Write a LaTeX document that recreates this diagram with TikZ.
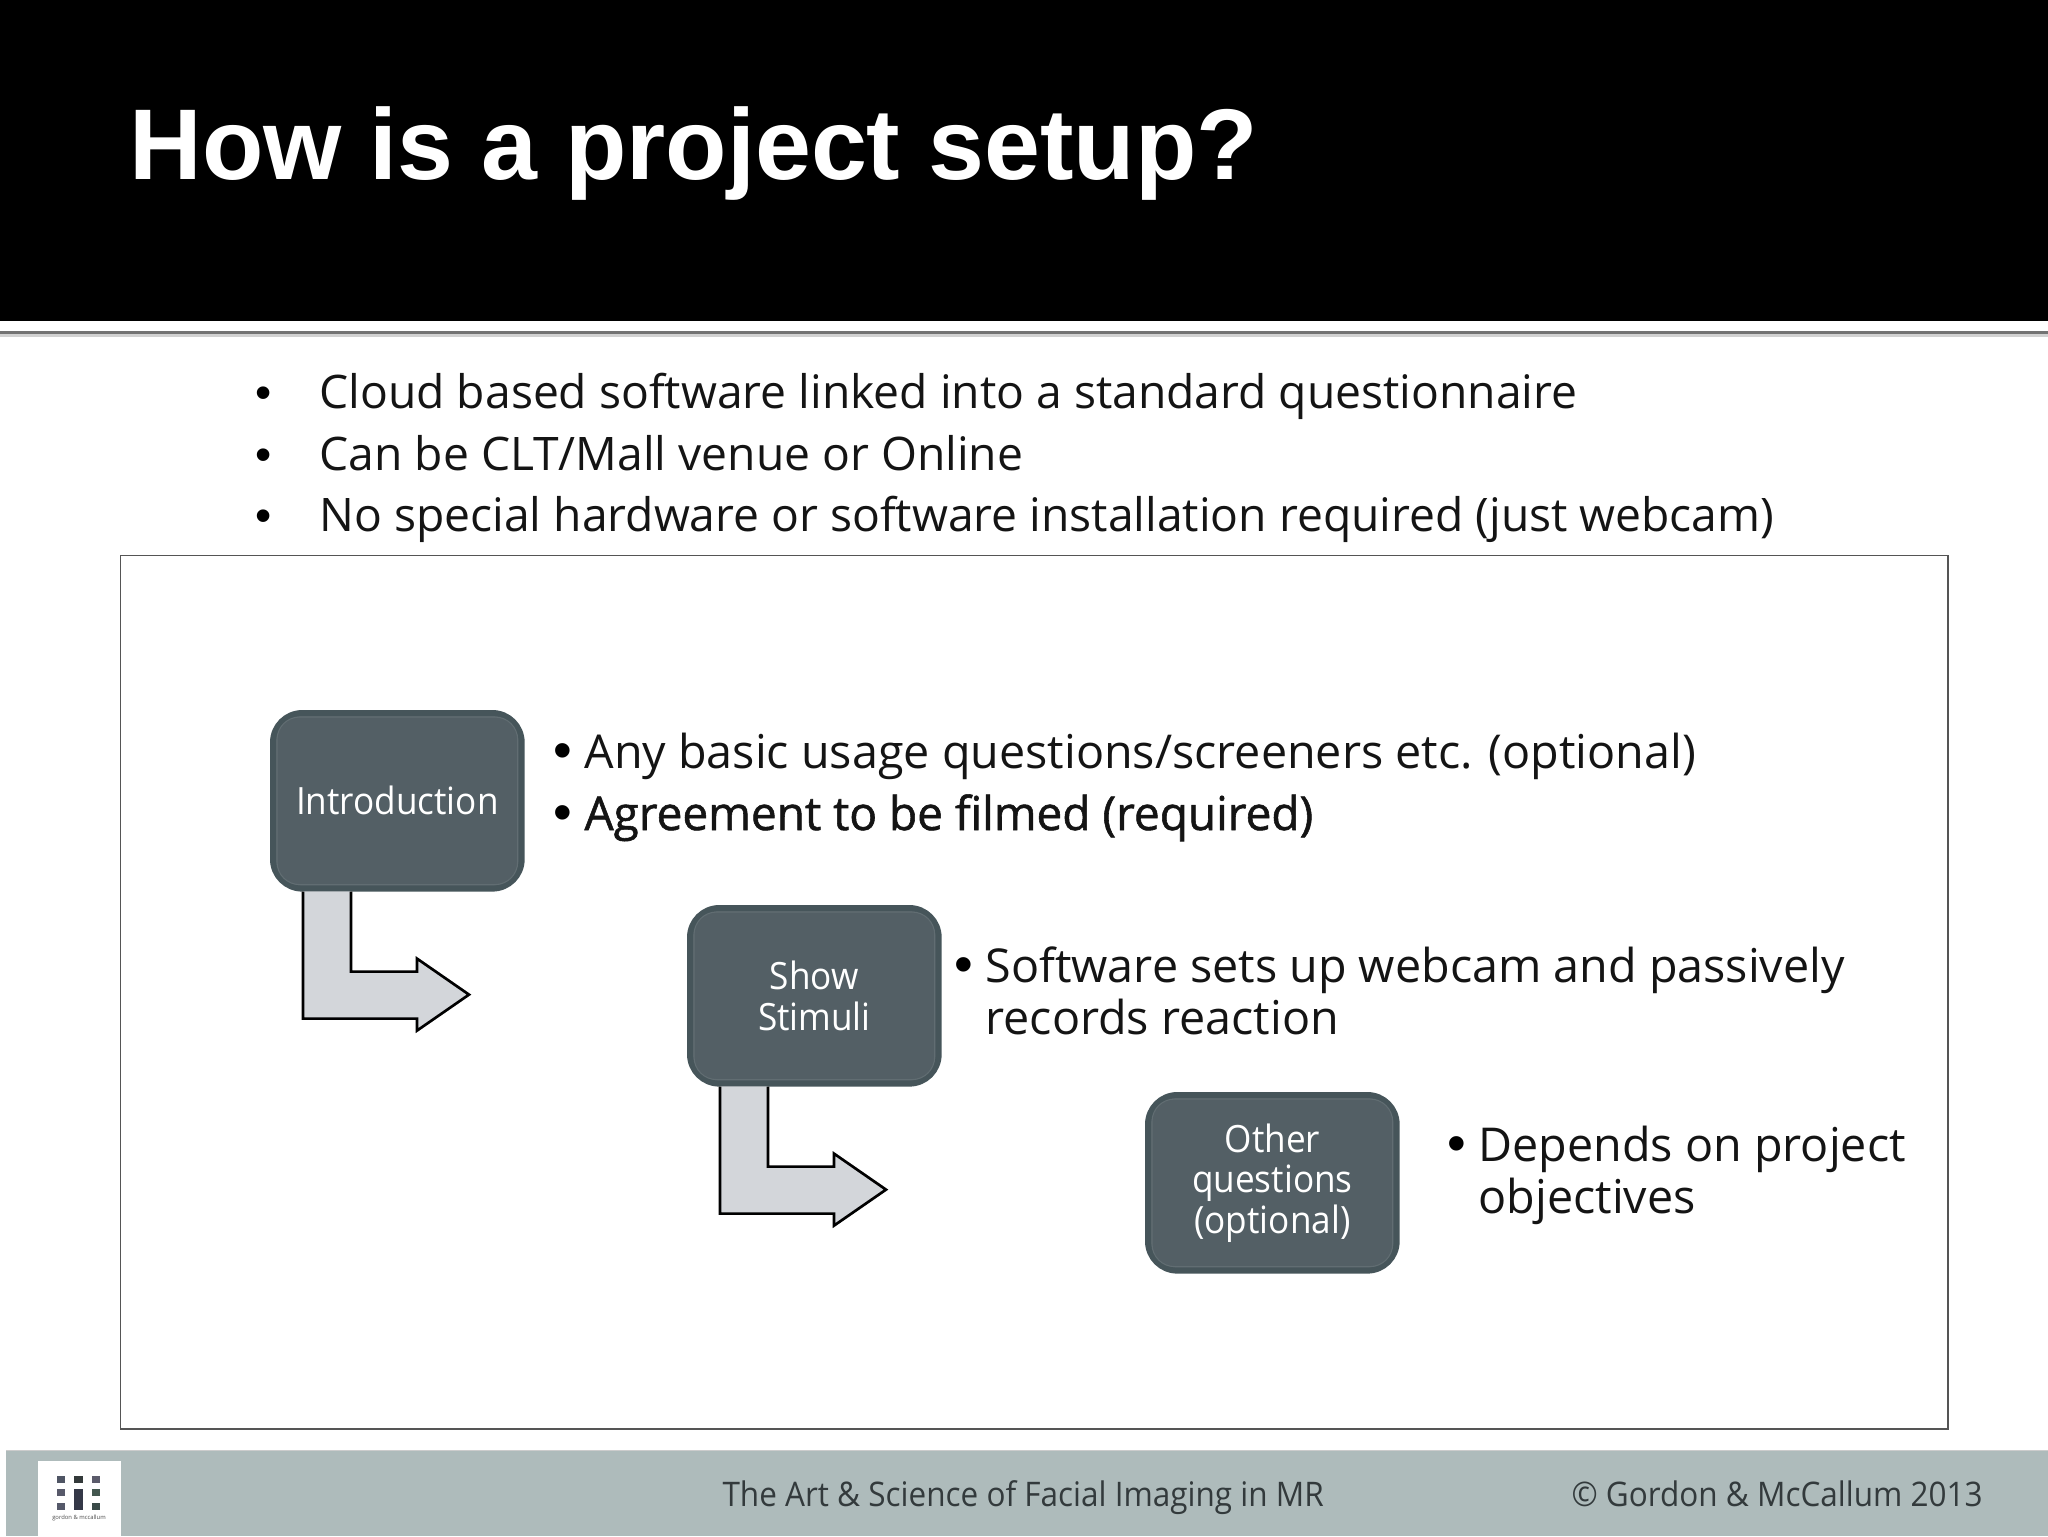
\documentclass[tikz,border=0pt]{standalone}
\usepackage{fontspec}
\setmainfont{Open Sans}
\newfontfamily\titlefont{Liberation Sans}
\newfontfamily\boxfont[FakeStretch=0.935]{Open Sans}
\newfontfamily\footfont[FakeStretch=0.93]{Open Sans}
\newfontfamily\heavyfont[FakeBold=1.2,FakeStretch=0.985]{Open Sans}
\definecolor{boxfill}{HTML}{535F65}
\definecolor{boxedge}{HTML}{46555A}
\definecolor{boxinner}{HTML}{616D72}
\definecolor{arrowfill}{HTML}{D3D6DA}
\definecolor{footerbg}{HTML}{AEBBBB}
\definecolor{footertext}{HTML}{333A3C}
\definecolor{framecol}{HTML}{555555}
\definecolor{textcol}{HTML}{141414}
\tikzset{
  x=0.375pt,y=-0.375pt,
  body/.style={anchor=base west,inner sep=0pt,text=textcol,font=\fontsize{17.33}{20}\selectfont},
  bodybullet/.style={anchor=base west,inner sep=0pt,text=black,font=\titlefont\fontsize{17.35}{20}\selectfont},
  sidetext/.style={anchor=base west,inner sep=0pt,text=textcol,font=\fontsize{17.5}{20}\selectfont},
  sidebullet/.style={anchor=base west,inner sep=0pt,text=black,font=\titlefont\fontsize{20}{20}\selectfont},
  stepbox/.style={draw=boxedge,fill=boxfill,line width=2.25pt,rounded corners=11pt,anchor=north west,
    minimum width=93.25pt,minimum height=65.85pt,inner sep=0pt,text=white,align=center,
    font=\boxfont\fontsize{14.1}{15.2}\selectfont},
  innerline/.style={draw=boxinner,line width=0.4pt,rounded corners=8.5pt},
  bentfill/.style={fill=arrowfill},
  bentline/.style={draw=black,line width=1pt,line join=miter},
  footer/.style={anchor=base west,inner sep=0pt,text=footertext,font=\footfont\fontsize{12.7}{15}\selectfont},
}
\newcommand{\stepinner}[1]{\draw[innerline] ([shift={(7,7)}]#1.north west) rectangle ([shift={(-7,-7)}]#1.south east);}
\newcommand{\bentarrow}[1]{
  \fill[bentfill] ([shift={(33,0)}]#1.south west) -- ([shift={(81,0)}]#1.south west) -- ([shift={(81,80)}]#1.south west) -- ([shift={(147,80)}]#1.south west) -- ([shift={(147,67)}]#1.south west) -- ([shift={(199,103)}]#1.south west) -- ([shift={(147,139)}]#1.south west) -- ([shift={(147,127)}]#1.south west) -- ([shift={(33,127)}]#1.south west) -- cycle;
  \draw[bentline] ([shift={(81,0)}]#1.south west) -- ([shift={(81,80)}]#1.south west) -- ([shift={(147,80)}]#1.south west) -- ([shift={(147,67)}]#1.south west) -- ([shift={(199,103)}]#1.south west) -- ([shift={(147,139)}]#1.south west) -- ([shift={(147,127)}]#1.south west) -- ([shift={(33,127)}]#1.south west) -- ([shift={(33,0)}]#1.south west);
}
\begin{document}
\begin{tikzpicture}
\useasboundingbox (0,0) rectangle (2048,1536);
\fill[white] (0,0) rectangle (2048,1536);
% header
\fill[black] (0,0) rectangle (2048,321);
\fill[black!55] (0,331) rectangle (2048,334);
\fill[black!18] (0,334) rectangle (2048,337);
\node[anchor=base west,inner sep=0pt,text=white,font=\titlefont\bfseries\fontsize{37.7}{40}\selectfont] (title) at (129,179) {How is a project setup?};
% bullets
\node[bodybullet] (b1) at (255,408) {•};
\node[body] (t1) at (319,408) {Cloud based software linked into a standard questionnaire};
\node[bodybullet] (b2) at (255,470) {•};
\node[body] (t2) at (319,470) {Can be CLT/Mall venue or Online};
\node[bodybullet] (b3) at (255,531) {•};
\node[body] (t3) at (319,531) {No special hardware or software installation required (just webcam)};
% frame
\draw[framecol,line width=0.6pt] (120.5,555.5) rectangle (1948,1429);
% boxes
\node[stepbox] (intro) at (270,710) {Introduction};
\stepinner{intro}
\bentarrow{intro}
\node[stepbox] (show) at (687,905) {Show\\Stimuli};
\stepinner{show}
\bentarrow{show}
\node[stepbox] (other) at (1145,1092) {Other\\questions\\(optional)};
\stepinner{other}
% side text
\node[sidebullet] (s1b) at (553,768) {•};
\node[sidetext] (s1) at (584,768) {Any basic usage questions/screeners etc. (optional)};
\node[sidebullet] (s2b) at (553,830) {•};
\node[sidetext,font=\heavyfont\fontsize{17.5}{20}\selectfont] (s2) at (584,830) {Agreement to be filmed (required)};
\node[sidebullet] (s3b) at (954,982) {•};
\node[sidetext] (s3) at (985,982) {Software sets up webcam and passively};
\node[sidetext] (s3c) at (985,1034) {records reaction};
\node[sidebullet] (s4b) at (1447,1161) {•};
\node[sidetext] (s4) at (1478,1161) {Depends on project};
\node[sidetext] (s4c) at (1478,1213) {objectives};
% footer
\fill[footerbg] (6,1450) rectangle (2048,1536);
\fill[black!20] (6,1450) rectangle (2048,1451);
\fill[white] (38,1461) rectangle (121,1536);
\foreach \xa/\ya/\xb/\yb/\c in {57/1476/65/1483/4F5564,74/1476/83/1483/33393A,92/1476/100/1483/5B5B6B,57/1489/65/1496/57596A,74/1489/83/1510/343847,92/1489/100/1496/43574F,57/1503/65/1510/55596A,92/1503/100/1510/3A4A48}
  {\definecolor{sq}{HTML}{\c}\fill[sq] (\xa,\ya) rectangle (\xb,\yb);}
\node[anchor=center,inner sep=0pt,text=black!70,font=\fontsize{2.2}{3}\selectfont] (logotext) at (79,1518) {gordon \& mccallum};
\node[footer] (f1) at (722,1506) {The Art \& Science of Facial Imaging in MR};
\node[footer] (f2) at (1571,1506) {© Gordon \& McCallum 2013};
\end{tikzpicture}
\end{document}
